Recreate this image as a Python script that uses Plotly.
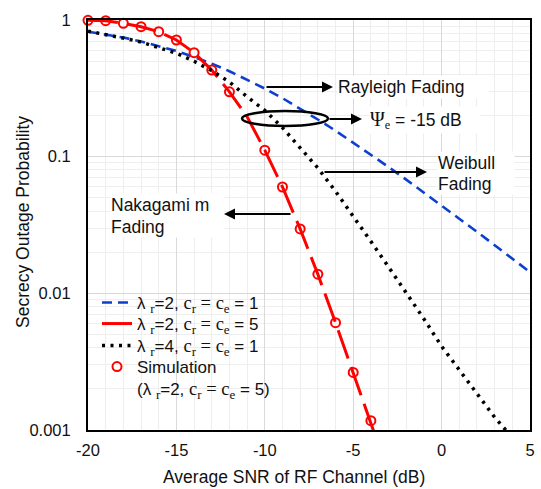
import plotly.graph_objects as go

# ---------------- data ----------------
snr_db = [-20, -19, -18, -17, -16, -15, -14, -13, -12, -11, -10, -9, -8, -7, -6,
          -5, -4, -3, -2, -1, 0, 1, 2, 3, 4, 5]

# lambda_r = 2, c_r = c_e = 1 (Rayleigh)  -- blue dashed
sop_rayleigh = [0.821, 0.785, 0.744, 0.697, 0.647, 0.593, 0.536, 0.479, 0.422, 0.367,
                0.315, 0.268, 0.225, 0.187, 0.155, 0.127, 0.104, 0.0841, 0.0679, 0.0547,
                0.0440, 0.0352, 0.0282, 0.0225, 0.0180, 0.0143]

# lambda_r = 4, c_r = c_e = 1 (Weibull)  -- black dotted
snr_weibull = [-20, -19, -18, -17, -16, -15, -14, -13, -12, -11, -10, -9, -8, -7, -6,
               -5, -4, -3, -2, -1, 0, 1, 2, 3, 4]
sop_weibull = [0.828, 0.787, 0.737, 0.690, 0.631, 0.571, 0.499, 0.426, 0.352, 0.274,
               0.218, 0.163, 0.116, 0.0826, 0.0558, 0.0369, 0.0240, 0.0156, 0.0101,
               0.0065, 0.0041, 0.00275, 0.00185, 0.00124, 0.00088]

# lambda_r = 2, c_r = c_e = 5 (Nakagami m) -- red analytical
snr_naka = [-20, -19, -18, -17, -16, -15, -14, -13, -12, -11, -10, -9, -8, -7, -6, -5, -4, -3]
sop_naka = [0.995, 0.988, 0.945, 0.893, 0.821, 0.714, 0.577, 0.430, 0.298, 0.196,
            0.1116, 0.060, 0.0296, 0.0138, 0.0061, 0.00264, 0.00117, 0.00048]

# simulation points
snr_sim = [-20, -19, -18, -17, -16, -15, -14, -13, -12, -10, -9, -8, -7, -6, -5, -4]
sop_sim = [0.995, 0.988, 0.945, 0.893, 0.821, 0.714, 0.577, 0.430, 0.298,
           0.1116, 0.060, 0.0296, 0.0138, 0.0061, 0.00264, 0.00117]

x_ticks = [-20, -15, -10, -5, 0, 5]
x_tick_text = ["-20", "-15", "-10", "-5", "0", "5"]
y_ticks = [0.001, 0.01, 0.1, 1]
y_tick_text = ["0.001", "0.01", "0.1", "1"]

# ---------------- layout helpers ----------------
W, H = 541, 489
L, R, T, B = 88, 11, 20, 59
PW, PH = W - L - R, H - T - B


def px(x):
    return (x - L) / PW


def py(y):
    return (H - B - y) / PH


FONT = "Arial, 'Liberation Sans', sans-serif"
TXT = "#111111"
FS = 17.5
SERIF_SPAN = '<span style="font-family:Liberation Serif;font-size:18.5px">'
SERIF_SUB = '<span style="font-family:Liberation Serif;font-size:13px">'


def lam_label(lam, c):
    return ("λ <sub>" + SERIF_SUB + "r</span></sub>=" + lam + ", "
            + SERIF_SPAN + "c<sub>r</sub> = c<sub>e</sub></span> = " + c)


fig = go.Figure()

fig.add_trace(go.Scatter(
    x=snr_db, y=sop_rayleigh, mode="lines", name=lam_label("2", "1"), legend="legend",
    line=dict(color="#0d3fcf", width=2.6, dash="10px,6px")))
fig.add_trace(go.Scatter(
    x=snr_naka, y=sop_naka, mode="lines", name=lam_label("2", "5"), legend="legend2",
    line=dict(color="#ff0000", width=3, dash="30px,9px")))
fig.add_trace(go.Scatter(
    x=snr_weibull, y=sop_weibull, mode="lines", name=lam_label("4", "1"), legend="legend3",
    line=dict(color="#000000", width=3.5, dash="3px,5.5px")))
fig.add_trace(go.Scatter(
    x=snr_sim, y=sop_sim, mode="markers", name="Simulation", cliponaxis=False, legend="legend4",
    marker=dict(symbol="circle-open", size=9, color="#ff0000", line=dict(width=2, color="#ff0000"))))
fig.add_trace(go.Scatter(
    x=[None], y=[None], mode="lines", name="(" + lam_label("2", "5") + ")", legend="legend5",
    line=dict(color="rgba(0,0,0,0)", width=1)))

minor_y = [m * 10 ** e for e in (-3, -2, -1) for m in range(2, 10)]

annotations = []


def arrow(tail, head):
    return dict(xref="paper", yref="paper", x=px(head[0]), y=py(head[1]),
                ax=tail[0] - head[0], ay=tail[1] - head[1], text="", showarrow=True,
                arrowhead=2, arrowsize=1.1, arrowwidth=2, arrowcolor="black",
                standoff=0, startstandoff=0)


def label(x, y, text, width, height):
    return dict(xref="paper", yref="paper", x=px(x), y=py(y), xanchor="left", yanchor="middle",
                text=text, showarrow=False, bgcolor="white", width=width, height=height,
                align="left", valign="middle", borderpad=0,
                font=dict(family=FONT, size=FS, color=TXT))


annotations.append(label(337, 87, "Rayleigh Fading", 150, 22))
annotations.append(label(369, 120,
                         '<span style="font-family:Liberation Serif;font-size:20px">Ψ</span>'
                         '<sub><span style="font-family:Liberation Serif">e</span></sub> = -15 dB',
                         110, 26))
annotations.append(label(437, 162, "Weibull", 76, 21))
annotations.append(label(437, 183, "Fading", 76, 21))
annotations.append(label(110, 205, "Nakagami m", 112, 21))
annotations.append(label(110, 226, "Fading", 112, 21))

annotations.append(arrow((265, 87), (333, 87)))
annotations.append(arrow((328, 119), (362, 119)))
annotations.append(arrow((323, 172), (427, 172)))
annotations.append(arrow((292, 214), (224, 214)))

# axis titles
annotations.append(dict(xref="paper", yref="paper", x=px(294), y=py(477), xanchor="center",
                        yanchor="middle", text="Average SNR of RF Channel (dB)", showarrow=False,
                        font=dict(family=FONT, size=FS, color=TXT)))
annotations.append(dict(xref="paper", yref="paper", x=px(23), y=py(222), xanchor="center",
                        yanchor="middle", text="Secrecy Outage Probability", textangle=-90,
                        showarrow=False, font=dict(family=FONT, size=FS, color=TXT)))

shapes = [
    dict(type="rect", xref="paper", yref="paper", x0=px(90), x1=px(300), y0=py(402), y1=py(294),
         fillcolor="white", line=dict(width=0), layer="between"),
    dict(type="circle", xref="paper", yref="paper", x0=px(242), x1=px(328),
         y0=py(126), y1=py(111), line=dict(color="black", width=2.5)),
]

leg_rows = [303, 324, 346, 367, 389]
legends = {}
for i, yrow in enumerate(leg_rows):
    key = "legend" if i == 0 else "legend%d" % (i + 1)
    legends[key] = dict(x=px(97), y=py(yrow), xanchor="left", yanchor="middle",
                        bgcolor="rgba(0,0,0,0)", borderwidth=0, itemwidth=30,
                        font=dict(family=FONT, size=17, color=TXT))

fig.update_layout(
    width=W, height=H, autosize=False,
    margin=dict(l=L, r=R, t=T, b=B, pad=0, autoexpand=False),
    paper_bgcolor="white", plot_bgcolor="white",
    font=dict(family=FONT, size=FS, color=TXT),
    showlegend=True,
    annotations=annotations,
    shapes=shapes,
    xaxis=dict(range=[-20, 5], tickvals=x_ticks, ticktext=x_tick_text, automargin=False,
               showgrid=True, gridcolor="#d9d9d9", gridwidth=1,
               minor=dict(dtick=1, tick0=0, showgrid=True, gridcolor="#eeeeee", ticks=""),
               showline=True, mirror=True, linecolor="black", linewidth=2,
               ticks="outside", ticklen=4, tickcolor="rgba(0,0,0,0)", zeroline=False,
               tickfont=dict(family=FONT, size=16.5, color=TXT)),
    yaxis=dict(type="log", range=[-3, 0], tickvals=y_ticks, ticktext=y_tick_text, automargin=False,
               showgrid=True, gridcolor="#d9d9d9", gridwidth=1,
               minor=dict(tickvals=minor_y, showgrid=True, gridcolor="#eeeeee", ticks=""),
               showline=True, mirror=True, linecolor="black", linewidth=2,
               ticks="outside", ticklen=12, tickcolor="rgba(0,0,0,0)", zeroline=False,
               tickfont=dict(family=FONT, size=16.5, color=TXT)),
    **legends,
)

fig.write_html("out.html", config={"displayModeBar": False},
               post_script="document.body.style.margin='0px';")
